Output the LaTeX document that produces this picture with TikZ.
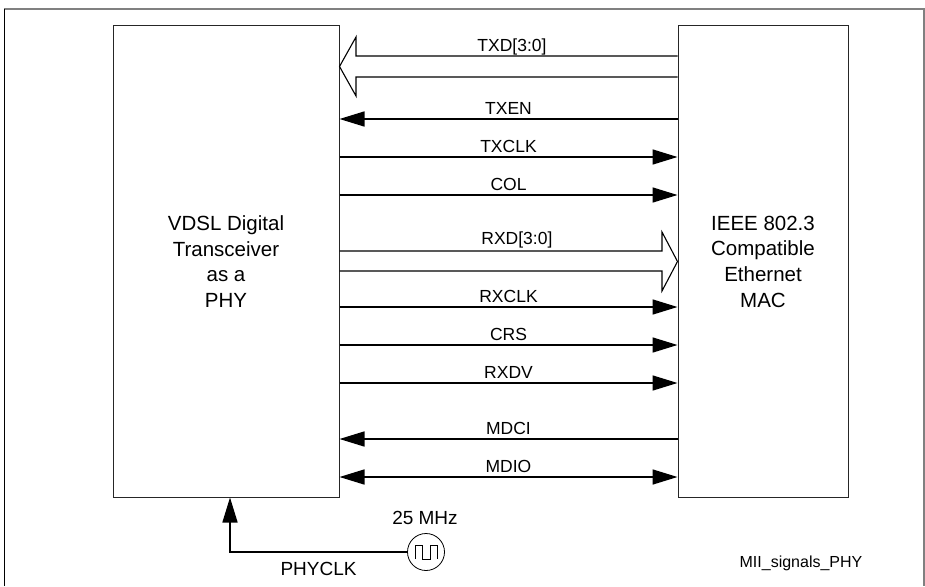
\documentclass[tikz,border=0pt]{standalone}
\usepackage{fontspec}
\setmainfont{Liberation Sans}
\usetikzlibrary{arrows.meta}

\tikzset{
  blk/.style={draw=black!85, line width=1pt, minimum height=471pt, align=center,
    font=\fontsize{20.5}{25.7}\selectfont},
  sig/.style={line width=1.6pt, -{Triangle[length=25pt,width=15pt]}},
  bus/.style={line width=1.1pt},
  lbl/.style={font=\fontsize{17.5}{20}\selectfont, text height=12.5pt, text depth=0pt, inner sep=3.5pt},
}

\begin{document}
\begin{tikzpicture}[x=1pt,y=-1pt]
\useasboundingbox (0,0) rectangle (925,586);
% frame
\draw[black!50, line width=2pt] (4,9) -- (924,9) -- (924,586);
\draw[line width=1pt] (4.5,9) -- (4.5,586);

% the two blocks
\node[blk, minimum width=226pt] (phy) at (226,261.5) {VDSL Digital\\Transceiver\\as a\\PHY};
\node[blk, minimum width=170pt] (mac) at (763,261.5) {IEEE 802.3\\Compatible\\Ethernet\\MAC};

% buses
\draw[bus] (mac.west |- 0,56) -- node[lbl, above, pos=0.515] (txd) {TXD[3:0]} (356,56) -- (356,37)
  -- (phy.east |- 0,66.5) -- (356,96) -- (356,77) -- (mac.west |- 0,77);
\draw[bus] (phy.east |- 0,251) -- node[lbl, above, pos=0.55, inner sep=5.5pt] (rxd) {RXD[3:0]} (662,251) -- (662,232)
  -- (mac.west |- 0,261.5) -- (662,291) -- (662,271) -- (phy.east |- 0,271);

% single signals
\draw[sig] (mac.west |- 0,119) -- node[lbl, above] (txen) {TXEN} (phy.east |- 0,119);
\draw[sig] (phy.east |- 0,157) -- node[lbl, above] (txclk) {TXCLK} (mac.west |- 0,157);
\draw[sig] (phy.east |- 0,195) -- node[lbl, above] (col) {COL} (mac.west |- 0,195);
\draw[sig] (phy.east |- 0,307) -- node[lbl, above] (rxclk) {RXCLK} (mac.west |- 0,307);
\draw[sig] (phy.east |- 0,345) -- node[lbl, above] (crs) {CRS} (mac.west |- 0,345);
\draw[sig] (phy.east |- 0,383) -- node[lbl, above] (rxdv) {RXDV} (mac.west |- 0,383);
\draw[sig] (mac.west |- 0,439) -- node[lbl, above] (mdci) {MDCI} (phy.east |- 0,439);
\draw[sig, {Triangle[length=25pt,width=15pt]}-{Triangle[length=25pt,width=15pt]}]
  (phy.east |- 0,477) -- node[lbl, above] (mdio) {MDIO} (mac.west |- 0,477);

% clock source
\node[draw, circle, line width=0.8pt, minimum size=37pt, inner sep=0pt] (osc) at (426,552) {};
\draw[line width=0.8pt] (osc.center) ++(-11,7) -- ++(0,-14) -- ++(7,0) -- ++(0,14) -- ++(8,0)
  -- ++(0,-14) -- ++(7,0) -- ++(0,14);
\node[font=\fontsize{19}{22}\selectfont] (freq) at (425,518) {25 MHz};
\draw[sig] (osc.west) -- node[below, font=\fontsize{19}{22}\selectfont, text height=13.6pt, text depth=0pt, inner sep=9pt] (phyclk) {PHYCLK}
  (230,552) -- (phy.south -| 230,0);

\node[font=\fontsize{16}{19}\selectfont] (tag) at (801,563) {MII\_signals\_PHY};
\end{tikzpicture}
\end{document}
